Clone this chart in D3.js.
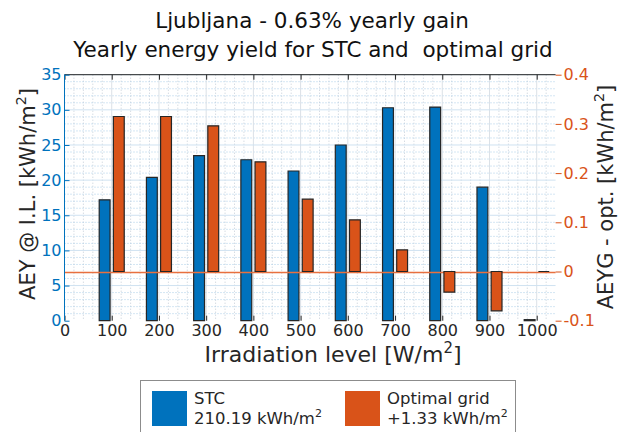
<!DOCTYPE html>
<html>
<head>
<meta charset="utf-8">
<script src="https://cdn.jsdelivr.net/npm/d3@7/dist/d3.min.js"></script>
<style>
  html, body { margin: 0; padding: 0; background: #fff; }
  svg { display: block; font-family: "DejaVu Sans", sans-serif; }
</style>
</head>
<body>
<svg id="chart" width="625" height="432"></svg>
<script>
// Irradiation levels (W/m²) and yearly energy yields
const levels = [100, 200, 300, 400, 500, 600, 700, 800, 900, 1000];
const stcYield = [17.2, 20.4, 23.5, 22.9, 21.3, 25.0, 30.3, 30.4, 19.0, 0.15];   // kWh/m², left axis
const gridGain = [0.315, 0.315, 0.296, 0.223, 0.147, 0.105, 0.044, -0.042, -0.080, 0.0]; // kWh/m², right axis
const xTicks = [0, 100, 200, 300, 400, 500, 600, 700, 800, 900, 1000];
const leftTicks = [0, 5, 10, 15, 20, 25, 30, 35];
const rightTicks = [-0.1, 0, 0.1, 0.2, 0.3, 0.4];
const rightTickLabels = ["-0.1", "0", "0.1", "0.2", "0.3", "0.4"];

const BLUE = "#0072BD", ORANGE = "#D95319", EDGE = "#262626", TEXT = "#262626";

const svg = d3.select("#chart");
const L = 64.5, R = 555.6, T = 74.7, B = 320.7;

const x = d3.scaleLinear().domain([0, 1040]).range([L, R]);
const yL = d3.scaleLinear().domain([0, 35]).range([B, T]);
const yR = d3.scaleLinear().domain([-0.1, 0.4]).range([B, T]);

// grid: dotted minor lines, fainter solid major lines
const g = svg.append("g");
g.selectAll(".vminor").data(d3.range(20, 1040, 20).filter(v => v % 100 !== 0))
  .join("line").attr("x1", d => x(d)).attr("x2", d => x(d)).attr("y1", T).attr("y2", B)
  .attr("stroke", "#c3ccd6").attr("stroke-width", 1).attr("stroke-dasharray", "1,2");
g.selectAll(".hminor").data(d3.range(1, 35, 1).filter(v => v % 5 !== 0 && v !== 7))
  .join("line").attr("x1", L).attr("x2", R).attr("y1", d => yL(d)).attr("y2", d => yL(d))
  .attr("stroke", "#a9cde8").attr("stroke-width", 1).attr("stroke-dasharray", "1,2");
g.selectAll(".vmajor").data(xTicks.slice(1))
  .join("line").attr("x1", d => x(d)).attr("x2", d => x(d)).attr("y1", T).attr("y2", B)
  .attr("stroke", "#dbe1e7").attr("stroke-width", 1);
g.selectAll(".hmajor").data(leftTicks.slice(1))
  .join("line").attr("x1", L).attr("x2", R).attr("y1", d => yL(d)).attr("y2", d => yL(d))
  .attr("stroke", "#cfe2f1").attr("stroke-width", 1);

// bars drawn as closed paths so zero-height bars still show their edge
const barW = 23, off = 15;
function barPath(xc, y0, y1) {
  const a = x(xc - barW / 2), b = x(xc + barW / 2);
  return `M${a},${y0}H${b}V${y1}H${a}Z`;
}
svg.append("g").selectAll("path").data(levels)
  .join("path")
  .attr("d", (d, i) => barPath(d - off, yL(0), yL(stcYield[i])))
  .attr("fill", BLUE).attr("stroke", EDGE).attr("stroke-width", 1.2);

// zero baseline of the right axis
const zeroY = Math.round(yR(0)) + 0.5;
svg.append("line").attr("x1", L).attr("x2", R).attr("y1", zeroY).attr("y2", zeroY)
  .attr("stroke", "#E8703F").attr("stroke-width", 1.5);

svg.append("g").selectAll("path").data(levels)
  .join("path")
  .attr("d", (d, i) => barPath(d + off, yR(0), yR(gridGain[i])))
  .attr("fill", ORANGE).attr("stroke", EDGE).attr("stroke-width", 1.2);

// axes
const xAxisBottom = d3.axisBottom(x).tickValues(xTicks).tickSize(-5).tickPadding(4).tickFormat(d3.format("d"));
const xb = svg.append("g").attr("transform", `translate(0,${B})`).call(xAxisBottom);
xb.select(".domain").remove();
xb.selectAll(".tick line").attr("stroke", EDGE);
xb.selectAll(".tick text").attr("fill", TEXT).attr("font-size", 16).attr("font-family", "DejaVu Sans");

const xAxisTop = d3.axisTop(x).tickValues(xTicks).tickSize(-5).tickFormat("");
const xt = svg.append("g").attr("transform", `translate(0,${T})`).call(xAxisTop);
xt.select(".domain").attr("d", `M${L},0H${R}`).attr("stroke", EDGE);
xt.selectAll(".tick line").attr("stroke", EDGE);

const yAxisLeft = d3.axisLeft(yL).tickValues(leftTicks).tickSize(-5).tickPadding(3);
const yl = svg.append("g").attr("transform", `translate(${L},0)`).call(yAxisLeft);
yl.select(".domain").attr("stroke", BLUE).attr("d", `M0,${B}V${T}`);
yl.selectAll(".tick line").attr("stroke", BLUE);
yl.selectAll(".tick text").attr("fill", BLUE).attr("font-size", 16).attr("font-family", "DejaVu Sans");

const yAxisRight = d3.axisRight(yR).tickValues(rightTicks).tickSize(6).tickPadding(2)
  .tickFormat((d, i) => rightTickLabels[i]);
const yr = svg.append("g").attr("transform", `translate(${R},0)`).call(yAxisRight);
yr.select(".domain").remove();
yr.selectAll(".tick line").attr("stroke", ORANGE);
yr.selectAll(".tick text").attr("fill", ORANGE).attr("font-size", 16).attr("font-family", "DejaVu Sans");

// labels with superscript units
function labelWithSup(sel, main, sup, tail, size) {
  sel.append("tspan").text(main);
  sel.append("tspan").text(sup).attr("font-size", size * 0.68).attr("dy", -size * 0.42);
  sel.append("tspan").text(tail).attr("dy", size * 0.42);
}

const xl = svg.append("text").attr("x", 333).attr("y", 362).attr("text-anchor", "middle")
  .attr("font-size", 22).attr("fill", TEXT);
labelWithSup(xl, "Irradiation level [W/m", "2", "]", 22);

const ylL = svg.append("text").attr("transform", "translate(34.5,194) rotate(-90)")
  .attr("text-anchor", "middle").attr("font-size", 21).attr("fill", TEXT);
labelWithSup(ylL, "AEY @ I.L. [kWh/m", "2", "]", 21);

const ylR = svg.append("text").attr("transform", "translate(612.5,197) rotate(-90)")
  .attr("text-anchor", "middle").attr("font-size", 21).attr("fill", TEXT);
labelWithSup(ylR, "AEYG - opt. [kWh/m", "2", "]", 21);

// title
svg.append("text").attr("x", 312).attr("y", 28).attr("text-anchor", "middle")
  .attr("font-size", 21.5).attr("fill", "#111").text("Ljubljana - 0.63% yearly gain");
svg.append("text").attr("x", 313).attr("y", 57).attr("text-anchor", "middle")
  .attr("font-size", 21.5).attr("fill", "#111").attr("xml:space", "preserve")
  .style("white-space", "pre").text("Yearly energy yield for STC and  optimal grid");

// legend
const lg = svg.append("g");
lg.append("rect").attr("x", 140.5).attr("y", 380.5).attr("width", 375).attr("height", 60)
  .attr("fill", "#fff").attr("stroke", "#8c8c8c").attr("stroke-width", 1);
const legendItems = [
  { color: BLUE, name: "STC", value: "210.19 kWh/m", sx: 152, tx: 194 },
  { color: ORANGE, name: "Optimal grid", value: "+1.33 kWh/m", sx: 345, tx: 387 }
];
legendItems.forEach(it => {
  lg.append("rect").attr("x", it.sx).attr("y", 391).attr("width", 35).attr("height", 35).attr("fill", it.color);
  lg.append("text").attr("x", it.tx).attr("y", 404).attr("font-size", 16.5).attr("fill", TEXT).text(it.name);
  const t = lg.append("text").attr("x", it.tx).attr("y", 423.5).attr("font-size", 16.5).attr("fill", TEXT);
  t.append("tspan").text(it.value);
  t.append("tspan").text("2").attr("font-size", 11).attr("dy", -7);
});
</script>
</body>
</html>
